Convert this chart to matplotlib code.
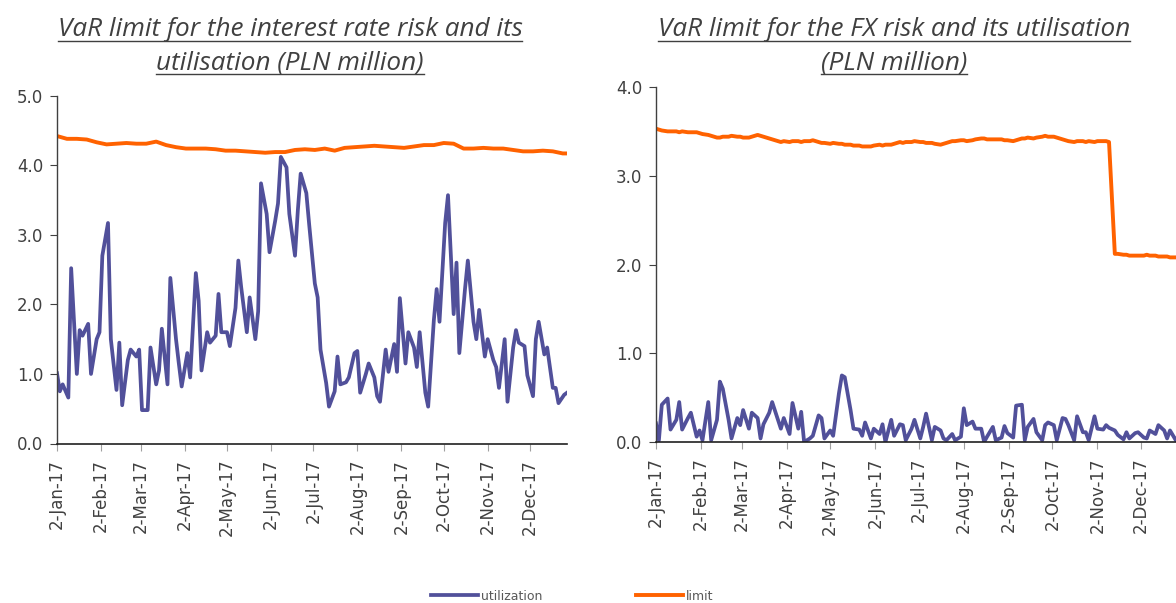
import numpy as np
import pandas as pd
import matplotlib
matplotlib.use("Agg")
import matplotlib.pyplot as plt
import matplotlib.dates as mdates
from matplotlib.lines import Line2D
from matplotlib.ticker import FuncFormatter, MultipleLocator

# every second business day of 2017
util_dates = pd.bdate_range('2017-01-02', '2017-12-29')[::2]
# weekly limit readings (Mondays) plus the last day
limit_dates = pd.date_range('2017-01-02', '2017-12-25', freq='W-MON').append(
    pd.DatetimeIndex(['2017-12-29']))

ir_utilization = [
    1.01, 0.75, 0.85, 0.66, 2.52, 1.00, 1.63, 1.55, 1.72, 1.00,
    1.50, 1.60, 2.70, 3.17, 1.50, 0.77, 1.45, 0.55, 1.20, 1.35,
    1.25, 1.35, 0.48, 0.48, 1.38, 0.85, 1.05, 1.65, 0.85, 2.38,
    1.50, 1.15, 0.82, 1.30, 0.95, 2.45, 2.05, 1.05, 1.60, 1.45,
    1.55, 2.15, 1.60, 1.60, 1.40, 1.95, 2.63, 2.25, 1.60, 2.10,
    1.50, 1.90, 3.74, 3.30, 2.75, 3.20, 3.45, 4.12, 3.97, 3.30,
    2.70, 3.35, 3.88, 3.60, 3.15, 2.30, 2.10, 1.35, 0.87, 0.53,
    0.75, 1.25, 0.85, 0.88, 0.95, 1.30, 1.33, 0.73, 1.00, 1.15,
    0.95, 0.68, 0.60, 1.35, 1.03, 1.43, 1.03, 2.09, 1.15, 1.60,
    1.38, 1.10, 1.60, 0.73, 0.53, 1.77, 2.22, 1.75, 3.17, 3.57,
    1.86, 2.60, 1.30, 2.22, 2.63, 1.75, 1.50, 1.92, 1.25, 1.50,
    1.20, 1.10, 0.80, 1.50, 0.60, 1.38, 1.63, 1.45, 1.40, 0.98,
    0.68, 1.50, 1.75, 1.28, 1.38, 0.80, 0.80, 0.58, 0.70, 0.73,
]
ir_limit = [
    4.42, 4.38, 4.38, 4.37, 4.33, 4.30, 4.31, 4.32, 4.31, 4.31,
    4.34, 4.29, 4.26, 4.24, 4.24, 4.24, 4.23, 4.21, 4.21, 4.20,
    4.19, 4.18, 4.19, 4.19, 4.22, 4.23, 4.22, 4.24, 4.21, 4.25,
    4.26, 4.27, 4.28, 4.27, 4.26, 4.25, 4.27, 4.29, 4.29, 4.32,
    4.31, 4.24, 4.24, 4.25, 4.24, 4.24, 4.22, 4.20, 4.20, 4.21,
    4.20, 4.17, 4.17,
]
fx_utilization = [
    0.21, 0.02, 0.42, 0.49, 0.14, 0.25, 0.45, 0.14, 0.27, 0.33,
    0.06, 0.13, 0.02, 0.45, 0.02, 0.25, 0.68, 0.60, 0.25, 0.04,
    0.27, 0.19, 0.36, 0.15, 0.33, 0.27, 0.04, 0.20, 0.33, 0.45,
    0.25, 0.15, 0.27, 0.09, 0.44, 0.15, 0.34, 0.00, 0.04, 0.07,
    0.30, 0.27, 0.04, 0.13, 0.07, 0.55, 0.75, 0.73, 0.36, 0.15,
    0.14, 0.07, 0.22, 0.04, 0.15, 0.09, 0.20, 0.00, 0.25, 0.07,
    0.20, 0.19, 0.02, 0.15, 0.25, 0.04, 0.17, 0.32, 0.02, 0.17,
    0.13, 0.04, 0.02, 0.09, 0.02, 0.06, 0.38, 0.19, 0.23, 0.15,
    0.15, 0.00, 0.06, 0.17, 0.02, 0.05, 0.18, 0.10, 0.05, 0.41,
    0.42, 0.02, 0.17, 0.26, 0.11, 0.02, 0.19, 0.22, 0.19, 0.02,
    0.27, 0.26, 0.19, 0.02, 0.29, 0.11, 0.11, 0.02, 0.29, 0.15,
    0.14, 0.19, 0.16, 0.13, 0.08, 0.03, 0.11, 0.04, 0.10, 0.11,
    0.05, 0.04, 0.13, 0.09, 0.19, 0.13, 0.04, 0.13, 0.02, 0.07,
]
# FX limit on the same grid as the utilisation
fx_limit = [
    3.53, 3.52, 3.51, 3.50, 3.50, 3.50, 3.49, 3.50, 3.49, 3.49,
    3.49, 3.48, 3.47, 3.46, 3.45, 3.43, 3.43, 3.44, 3.44, 3.45,
    3.44, 3.44, 3.43, 3.43, 3.44, 3.46, 3.45, 3.44, 3.42, 3.41,
    3.39, 3.38, 3.39, 3.38, 3.39, 3.39, 3.38, 3.39, 3.39, 3.40,
    3.38, 3.37, 3.37, 3.36, 3.37, 3.36, 3.36, 3.35, 3.35, 3.34,
    3.34, 3.33, 3.33, 3.33, 3.34, 3.35, 3.34, 3.35, 3.35, 3.36,
    3.38, 3.37, 3.38, 3.38, 3.39, 3.38, 3.38, 3.37, 3.37, 3.36,
    3.35, 3.36, 3.37, 3.39, 3.39, 3.40, 3.40, 3.39, 3.40, 3.41,
    3.42, 3.42, 3.41, 3.41, 3.41, 3.41, 3.40, 3.40, 3.39, 3.40,
    3.42, 3.42, 3.43, 3.42, 3.43, 3.44, 3.45, 3.44, 3.44, 3.43,
    3.41, 3.40, 3.39, 3.38, 3.39, 3.39, 3.38, 3.39, 3.38, 3.39,
    3.39, 3.39, 3.38, 2.12, 2.12, 2.11, 2.11, 2.10, 2.10, 2.10,
    2.10, 2.11, 2.10, 2.10, 2.09, 2.09, 2.09, 2.08, 2.08, 2.08,
]

left_title = ['VaR limit for the interest rate risk and its', 'utilisation (PLN million)']
right_title = ['VaR limit for the FX risk and its utilisation', '(PLN million)']

UTIL_C = '#51509A'
LIMIT_C = '#FF6200'
TEXT_C = '#404040'

fig = plt.figure(figsize=(11.76, 6.03), dpi=100)
W, H = 1176.0, 603.0

def px_axes(x0, y_top, x1, y_bot):
    return fig.add_axes([x0 / W, (H - y_bot) / H, (x1 - x0) / W, (y_bot - y_top) / H])

ax1 = px_axes(57, 95.7, 567, 443.5)
ax2 = px_axes(656, 87, 656 + 1.452 * 360, 442)

def date_fmt(x, pos):
    d = mdates.num2date(x)
    return f"{d.day}-{d:%b-%y}"

def style(ax, ymax):
    ax.set_ylim(0, ymax)
    ax.set_xlim(pd.Timestamp('2017-01-02'), pd.Timestamp('2017-12-28'))
    ax.yaxis.set_major_locator(MultipleLocator(1))
    ax.yaxis.set_major_formatter(FuncFormatter(lambda v, p: f"{v:.1f}"))
    ax.xaxis.set_major_locator(mdates.MonthLocator(bymonthday=2))
    ax.xaxis.set_major_formatter(FuncFormatter(date_fmt))
    for s in ['top', 'right']:
        ax.spines[s].set_visible(False)
    ax.spines['left'].set_color('#404040')
    ax.spines['bottom'].set_color('#202020')
    ax.spines['left'].set_linewidth(1.0)
    ax.spines['bottom'].set_linewidth(1.2)
    ax.tick_params(axis='y', direction='out', length=5, color='#404040',
                   labelsize=12, labelcolor=TEXT_C, pad=5)
    ax.tick_params(axis='x', direction='out', length=5, color='#a0a0a0',
                   labelsize=12, labelcolor=TEXT_C, labelrotation=90, pad=6)
    ax.set_facecolor('none')

l_util, = ax1.plot(util_dates, ir_utilization, color=UTIL_C, lw=2.7,
                   solid_joinstyle='round', label='utilization')
l_lim, = ax1.plot(limit_dates, ir_limit, color=LIMIT_C, lw=2.8, label='limit')
ax2.plot(util_dates, fx_utilization, color=UTIL_C, lw=2.7, solid_joinstyle='round')
ax2.plot(util_dates, fx_limit, color=LIMIT_C, lw=2.8)

style(ax1, 5)
style(ax2, 4)

# titles, italic and underlined
title_texts = []
for cx, lines in [(290, left_title), (894, right_title)]:
    for j, line in enumerate(lines):
        t = fig.text(cx / W, 1 - (36 + 33 * j) / H, line, ha='center', va='baseline',
                     fontsize=18.8, style='italic', family='Open Sans', color=TEXT_C)
        title_texts.append(t)

fig.canvas.draw()
inv = fig.transFigure.inverted()
for t in title_texts:
    bb = t.get_window_extent().transformed(inv)
    x0, x1 = bb.x0, bb.x1
    yb = t.get_position()[1] - 5 / H
    fig.add_artist(Line2D([x0, x1], [yb, yb], transform=fig.transFigure,
                          color=TEXT_C, lw=1.0))

fig.legend(handles=[l_util, l_lim], labels=['utilization', 'limit'],
           loc='center', bbox_to_anchor=(572 / W, 1 - 596 / H), ncol=2,
           frameon=False, fontsize=9, handlelength=3.8, handletextpad=0.2,
           columnspacing=7.5, labelcolor='#595959')

fig.savefig('out.png', dpi=100)
